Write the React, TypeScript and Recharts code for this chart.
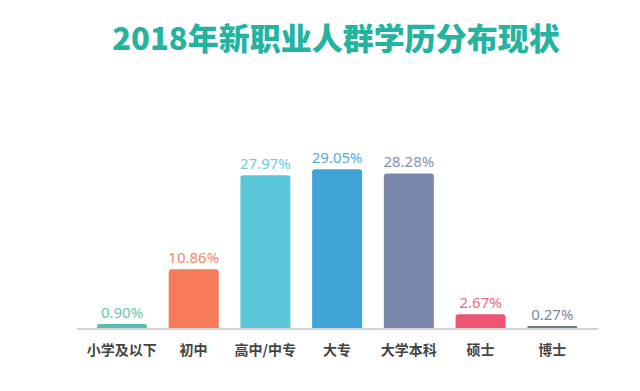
import React from "react";
import { BarChart, Bar, XAxis, YAxis, Cell, LabelList } from "recharts";

const categories = ["小学及以下", "初中", "高中/中专", "大专", "大学本科", "硕士", "博士"];
const values = [0.9, 10.86, 27.97, 29.05, 28.28, 2.67, 0.27];
const valueLabels = ["0.90%", "10.86%", "27.97%", "29.05%", "28.28%", "2.67%", "0.27%"];
const colors = ["#56bfae", "#f47a5a", "#5ac8da", "#3fa3d8", "#7a86ab", "#ef5572", "#6c7a93"];
const title = "2018年新职业人群学历分布现状";

const data = categories.map((c, i) => ({ name: c, value: values[i], label: valueLabels[i] }));

const ValueLabel = (props: any) => {
  const { x, y, width, index } = props;
  return (
    <text
      x={x + width / 2}
      y={y - 6}
      textAnchor="middle"
      fill={colors[index]}
      fontSize={15}
      fontFamily="'Noto Sans', 'Open Sans', sans-serif"
      opacity={0.9}
    >
      {valueLabels[index]}
    </text>
  );
};

export default function App() {
  return (
    <div style={{ position: "absolute", left: 0, top: 0, width: 640, height: 391, background: "#fff" }}>
      <div
        style={{
          position: "absolute",
          left: 16,
          top: 17,
          width: 640,
          textAlign: "center",
          fontFamily: "'Noto Sans CJK SC', sans-serif",
          fontWeight: 900,
          fontSize: 31,
          letterSpacing: 0,
          color: "#25b3a0",
          lineHeight: "40px",
        }}
      >
        {title}
      </div>
      <BarChart
        width={640}
        height={391}
        data={data}
        margin={{ top: 164, right: 42, bottom: 32, left: 77 }}
        style={{ position: "absolute", left: 0, top: 0 }}
      >
        <YAxis hide domain={[0, 30]} />
        <XAxis
          dataKey="name"
          height={30}
          padding={{ left: 9, right: 10 }}
          tickLine={false}
          axisLine={{ stroke: "#d3d3d3", strokeWidth: 2 }}
          tickMargin={10}
          interval={0}
          tick={{ fill: "#444", fontSize: 14, fontFamily: "'Noto Sans CJK SC', sans-serif", fontWeight: 700 }}
        />
        <Bar dataKey="value" barSize={50} radius={[3, 3, 0, 0]} minPointSize={3} isAnimationActive={false}>
          {data.map((d, i) => (
            <Cell key={d.name} fill={colors[i]} />
          ))}
          <LabelList dataKey="label" content={<ValueLabel />} />
        </Bar>
      </BarChart>
    </div>
  );
}
